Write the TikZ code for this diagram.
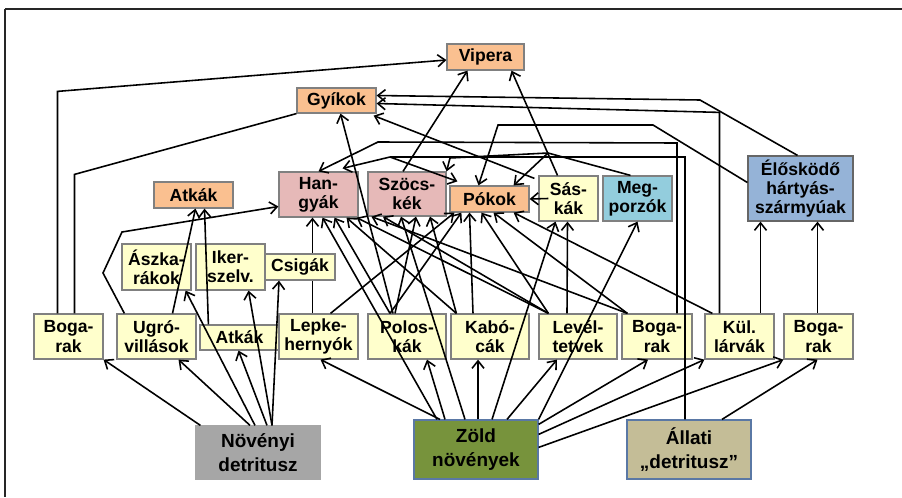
\documentclass[tikz,border=0pt]{standalone}
\usepackage{fontspec}
\setmainfont{Liberation Sans}
\usetikzlibrary{arrows.meta,calc}
\definecolor{orng}{RGB}{250,192,144}
\definecolor{pnk}{RGB}{230,185,184}
\definecolor{ylw}{RGB}{255,255,204}
\definecolor{cyn}{RGB}{147,205,221}
\definecolor{blu}{RGB}{149,179,215}
\definecolor{gry}{RGB}{166,166,166}
\definecolor{grn}{RGB}{119,147,60}
\definecolor{tan}{RGB}{196,189,151}
\definecolor{bord}{RGB}{90,120,165}
\begin{document}
\begin{tikzpicture}[x=0.02cm, y=-0.02cm, every node/.style={font=\bfseries\fontsize{10}{11}\selectfont}, >={Straight Barb[length=1.5mm,width=2.4mm]},
  box/.style={draw=black!50, line width=0.7pt, align=center, inner sep=0pt},
  org/.style={box, fill=orng, minimum width=1.58cm, minimum height=0.52cm},
  pnk/.style={box, fill=pnk, minimum width=1.58cm, minimum height=0.9cm},
  yel/.style={box, fill=ylw, minimum width=1.56cm, minimum height=0.9cm},
  src/.style={box, draw=bord, minimum width=2.48cm, minimum height=1.18cm, font=\bfseries\fontsize{10.8}{12}\selectfont},
  arr/.style={->, line width=0.9pt},
  ln/.style={line width=0.9pt}]
\useasboundingbox (0,0) rectangle (902,497);
\draw[line width=1.5pt, black!85] (5,9) -- (902,9);
\draw[line width=1pt, black!85] (5,9) -- (5,497);

\node[org, minimum width=1.54cm] (vipera) at (485.5,57) {Vipera};
\node[org, minimum height=0.5cm] (gyikok) at (336.5,100.5) {Gyíkok};
\node[org] (atkak1) at (193.5,195) {Atkák};
\node[pnk] (hangyak) at (318.5,194.5) {Han-\\gyák};
\node[pnk, minimum width=1.56cm, minimum height=0.88cm] (szocskek) at (407,194) {Szöcs-\\kék};
\node[org] (pokok) at (489.5,199) {Pókok};
\node[yel, minimum width=1.18cm] (saskak) at (568.5,198.5) {Sás-\\kák};
\node[box, fill=cyn, minimum width=1.38cm, minimum height=0.9cm] (megporzok) at (637.5,198.5) {Meg-\\porzók};
\node[box, draw=black!60, fill=blu, minimum width=2.1cm, minimum height=1.3cm] (elosk) at (800.5,188.5) {Élősködő\\hártyás-\\szármyúak};
\node[yel, minimum width=1.38cm, minimum height=0.92cm] (aszka) at (156.5,267) {Ászka-\\rákok};
\node[yel, minimum width=1.38cm, minimum height=0.92cm] (iker) at (230.5,267) {Iker-\\szelv.};
\node[yel, minimum width=1.38cm] (bogarak1) at (68.5,336.5) {Boga-\\rak};
\node[yel, minimum width=1.58cm] (ugro) at (156.5,336.5) {Ugró-\\villások};
\node[yel, minimum width=1.58cm, minimum height=0.5cm] (atkak2) at (239.5,337.5) {Atkák};
\node[yel, minimum width=1.58cm] (lepke) at (318.5,336.5) {Lepke-\\hernyók};
\node[yel] (poloskak) at (407,336.5) {Polos-\\kák};
\node[yel] (kabocak) at (490,336.5) {Kabó-\\cák};
\node[yel] (level) at (578,336.5) {Levél-\\tetvek};
\node[yel, minimum width=1.4cm] (bogarak2) at (657,336.5) {Boga-\\rak};
\node[yel, minimum width=1.38cm] (kul) at (739.5,336.5) {Kül.\\lárvák};
\node[yel, minimum width=1.38cm] (bogarak3) at (818.5,336.5) {Boga-\\rak};
\node[src, draw=black!35, fill=gry, minimum height=1.06cm] (novenyi) at (258,452.5) {Növényi\\[2pt]detritusz};
\node[src, fill=grn] (zold) at (476,449.5) {Zöld\\[2pt]növények};
\node[src, fill=tan] (allati) at (689,449.5) {Állati\\[2pt]„detritusz”};
\coordinate (ap) at (390,157);
\coordinate (mp) at (548,153);

\draw[arr] (lepke.north) ++(-6,0) -- ($(hangyak.south)+(-6,0)$);

\draw[arr] ($(novenyi.north west)+(5,0)$) -- (bogarak1.south east);
\draw[arr] ($(novenyi.north)+(-8,0)$) -- ($(ugro.south)+(22,0)$);
\draw[arr] ($(novenyi.north)+(-3,0)$) -- ($(aszka.south east)+(-6,0)$);
\draw[arr] ($(novenyi.north)+(9,0)$) -- ($(atkak2.south)+(-1,0)$);
\draw[arr] ($(novenyi.north)+(14,0)$) -- ($(iker.south)+(18,0)$);

\draw[arr] ($(zold.north)+(-39,0)$) -- ($(hangyak.south)+(4,0)$);
\draw[arr] ($(zold.north)+(-36,0)$) -- ($(lepke.south)+(2,0)$);
\draw[arr] ($(zold.north)+(-31,0)$) -- ($(poloskak.south)+(20,0)$);
\draw[arr] ($(zold.north)+(-11,0)$) -- ($(szocskek.south)+(-6,0)$);
\draw[arr] ($(zold.north)+(2,0)$) -- ($(kabocak.south)+(-12,0)$);
\draw[arr] ($(zold.north)+(16,0)$) -- ($(saskak.south)+(-13,0)$);
\draw[arr] ($(zold.north)+(31,0)$) -- ($(level.south)+(-21,0)$);
\draw[arr] (zold.north east) -- (megporzok.south);
\draw[arr] ($(zold.north east)+(0,5)$) -- ($(bogarak2.south)+(-9,0)$);
\draw[arr] ($(zold.north east)+(0,15)$) -- (kul.south west);
\draw[arr] ($(zold.north east)+(0,28)$) -- (bogarak3.south west);
\draw[arr] ($(allati.north)+(33,0)$) -- ($(bogarak3.south)+(-1,0)$);

\draw[arr] ($(bogarak1.north)+(-11,0)$) -- ++(0,-222) -- ($(vipera.west)+(0,3)$);
\draw[ln] ($(bogarak1.north)+(6,0)$) -- ++(0,-139) -- (gyikok.south west);
\draw[arr] ($(ugro.north west)+(8,0)$) -- (103,273) -- (122,232) -- ($(hangyak.west)+(0,12)$);
\draw[arr] ($(ugro.north)+(16,0)$) -- ($(atkak1.south)+(2,0)$);
\draw[arr] ($(atkak2.north west)+(9,0)$) -- ($(atkak1.south)+(11,0)$);
\draw[arr] ($(poloskak.north)+(-14,0)$) -- ($(gyikok.south)+(4,0)$);
\draw[arr] ($(szocskek.north)+(-4,0)$) -- ($(vipera.south)+(-18,0)$);
\draw[arr] ($(saskak.north)+(-11,0)$) -- ($(vipera.south)+(26,0)$);
\draw[arr] ($(saskak.north west)+(-4,3)$) -- ($(gyikok.south east)+(-3,2)$);
\draw[arr] ($(saskak.west)+(10,0)$) -- (pokok.east);
\draw[ln] ($(megporzok.north)+(-7,0)$) -- (mp);
\draw[arr] (mp) -- ($(pokok.north east)+(-16,0)$);
\draw[arr] (mp) -- (450,158) -- (szocskek.north east);
\draw[arr] ($(elosk.west)+(0,-6)$) -- (653,125) -- (498,125) -- ($(pokok.north)+(-11,0)$);
\draw[arr] ($(elosk.north)+(-3,0)$) -- (700,100) -- ($(gyikok.east)+(0,-5)$);
\draw[arr] ($(kul.north)+(-20,0)$) -- ++(0,-201) -- ($(gyikok.east)+(0,3)$);
\draw[arr] ($(bogarak2.north)+(20,0)$) -- (677,143) -- (378,142) -- (hangyak.north);
\draw[arr] ($(allati.north)+(-4,0)$) -- (685,157) -- (ap) -- ($(hangyak.north)+(24,-3)$);
\draw[arr] (ap) -- ($(pokok.north west)+(8,-4)$);
\draw[arr] ($(kul.north)+(21,0)$) -- ($(elosk.south)+(-40,0)$);
\draw[arr] ($(bogarak3.north)+(-1,0)$) -- ($(elosk.south)+(17,0)$);
\draw[arr] ($(level.north)+(-11,0)$) -- ($(saskak.south)+(-1,0)$);

\draw[arr] ($(poloskak.north)+(-17,0)$) -- ($(hangyak.south)+(16,0)$);
\draw[arr] ($(kabocak.north west)+(6,0)$) -- ($(hangyak.south)+(28,0)$);
\draw[arr] ($(level.north west)+(10,0)$) -- ($(hangyak.south east)+(-2,0)$);
\draw[arr] ($(bogarak2.north west)+(6,0)$) -- ($(szocskek.south west)+(4,0)$);
\draw[arr] ($(level.north west)+(10,0)$) -- ($(szocskek.south)+(-24,0)$);
\draw[arr] ($(poloskak.north)+(-12,0)$) -- ($(szocskek.south)+(9,0)$);
\draw[arr] ($(kabocak.north west)+(6,0)$) -- ($(szocskek.south)+(23,0)$);
\draw[arr] ($(lepke.north)+(12,0)$) -- ($(pokok.south west)+(5,0)$);
\draw[arr] ($(poloskak.north)+(-17,0)$) -- ($(pokok.south west)+(12,0)$);
\draw[arr] ($(kabocak.north)+(-17,0)$) -- ($(pokok.south)+(-20,0)$);
\draw[arr] ($(level.north west)+(10,0)$) -- ($(pokok.south)+(-8,0)$);
\draw[arr] ($(bogarak2.north west)+(6,0)$) -- ($(pokok.south)+(4,0)$);
\draw[arr] ($(kul.north west)+(8,0)$) -- ($(pokok.south east)+(-16,0)$);

\node[yel, minimum width=1.4cm, minimum height=0.52cm] (csigak) at (300,267) {Csigák};
\draw[arr] ($(novenyi.north)+(14,0)$) -- ($(csigak.south)+(-21,0)$);
\end{tikzpicture}
\end{document}
